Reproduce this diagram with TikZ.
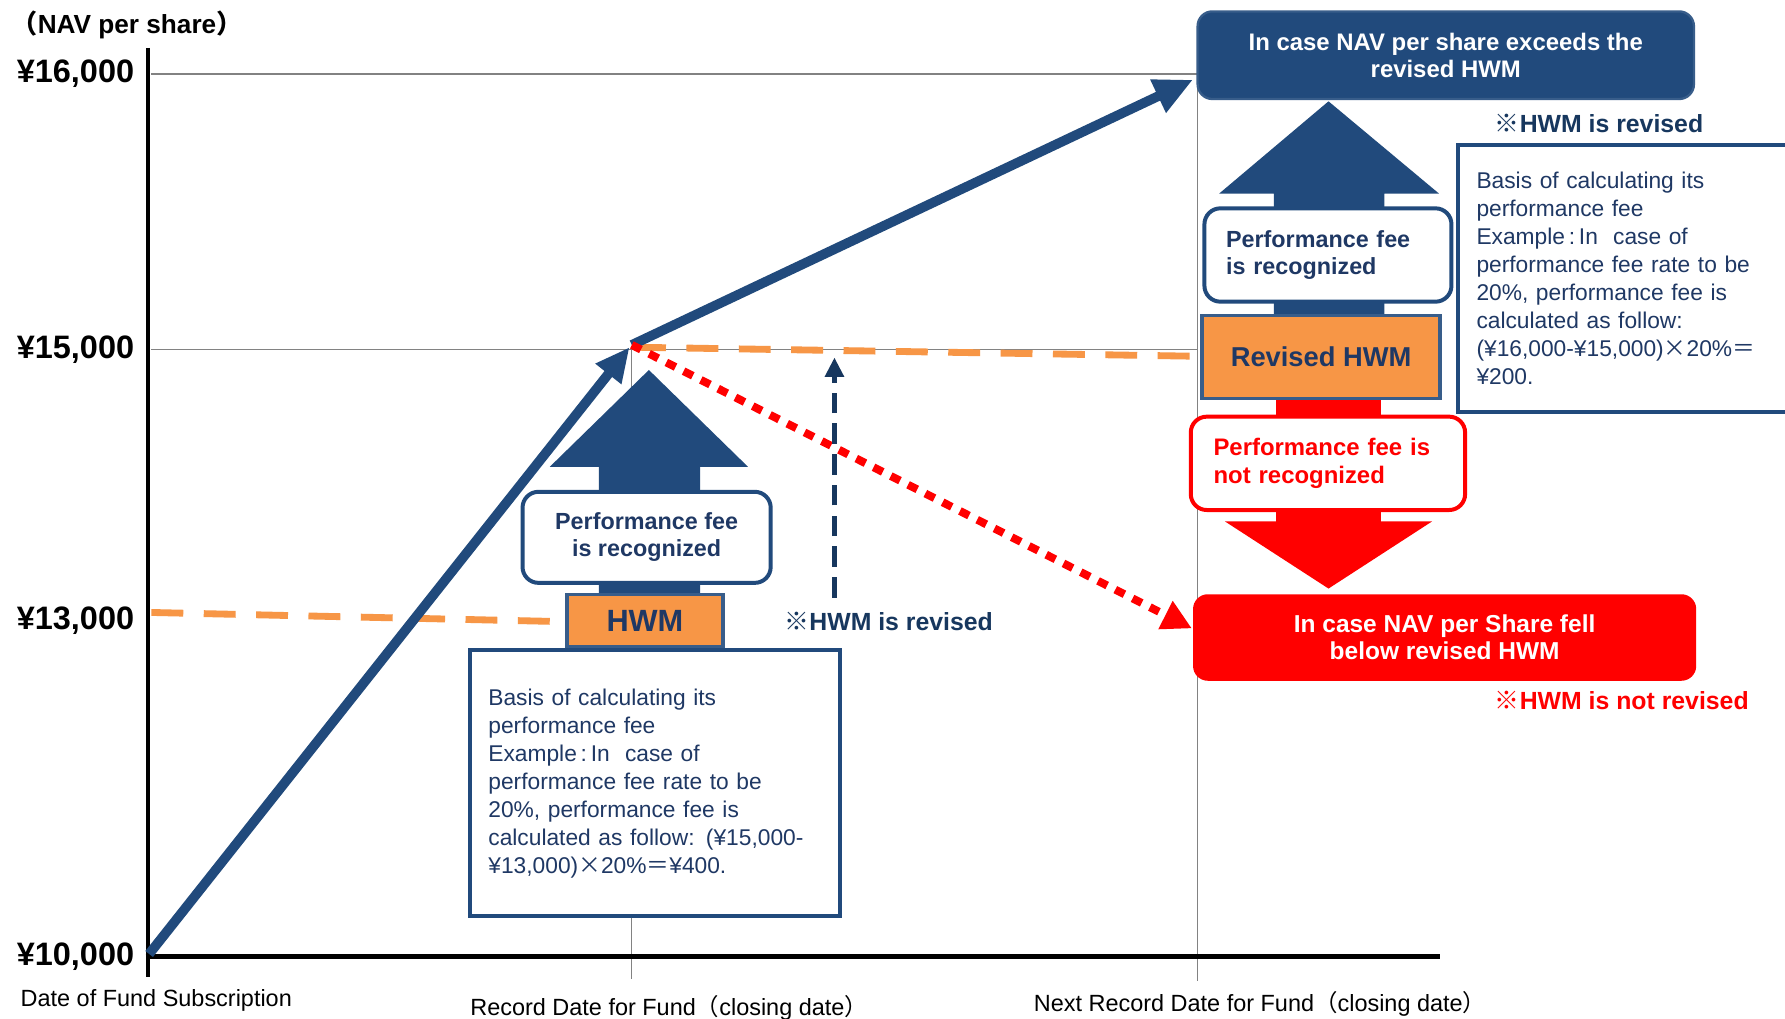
\documentclass[tikz,border=0pt]{standalone}
\usepackage{fontspec}
\setmainfont{Liberation Sans}
\newfontfamily\cjk{Noto Sans CJK JP}
\usetikzlibrary{arrows.meta}
\definecolor{navy}{RGB}{33,74,124}
\definecolor{navytext}{RGB}{31,56,100}
\definecolor{dnavy}{RGB}{23,55,94}
\definecolor{orng}{RGB}{247,150,70}
\definecolor{bordblue}{RGB}{56,93,138}
\definecolor{gridgray}{RGB}{130,130,130}
\newcommand{\fsz}[2]{\fontsize{#1}{#2}\selectfont}
\tikzset{
  ylabel/.style={font=\bfseries\fsz{28.5}{30}, anchor=east, inner sep=0},
  xlabel/.style={font=\fsz{20.6}{24}, anchor=west, inner sep=0},
  gridline/.style={draw=gridgray, line width=1},
  recbox/.style={draw=navy, line width=3.5, fill=white, rounded corners=14, font=\bfseries\fsz{20.5}{24}, text=navytext},
  notrecbox/.style={draw=red, line width=3.5, fill=white, rounded corners=14, font=\bfseries\fsz{21}{24}, text=red},
  hwmbox/.style={draw=bordblue, line width=3, fill=orng, text=navytext},
  basisbox/.style={draw=navy, line width=3.5, fill=white, text=navytext, font=\fsz{20}{24.6}, align=left, inner xsep=16},
  navybox/.style={draw=bordblue, line width=2, fill=navy, rounded corners=13, text=white, font=\bfseries\fsz{21}{24}, align=center},
  redbox/.style={fill=red, rounded corners=13, text=white, font=\bfseries\fsz{21.5}{24}, align=center},
  note/.style={font=\bfseries\fsz{21.8}{24}, anchor=west, inner sep=0},
  mainarrow/.style={draw=navy, line width=8.5},
  orangedash/.style={draw=orng, line width=6, dash pattern=on 28 off 18},
}
\begin{document}
\begin{tikzpicture}[x=1pt,y=-1pt]
\useasboundingbox (0,0) rectangle (1568,895);
\fill[white] (0,0) rectangle (1568,895);

% key points
\coordinate (o) at (131,838);
\coordinate (r1) at (553,305);
\coordinate (r2) at (1048,70);
\coordinate (rs) at (555,303);
\coordinate (rd) at (1047,552);

% grid lines
\draw[gridline] (133,65) -- (1052,65);
\draw[gridline] (133,307) -- (1052,307);
\draw[gridline] (555,307) -- (555,860);
\draw[gridline] (1052,65) -- (1052,862);

% axes
\draw[line width=3] (130,42) -- (130,858);
\draw[line width=4] (128,840) -- (1265,840);

% axis labels
\node[font=\bfseries\fsz{23}{26}, anchor=west, inner sep=0] (ytitle) at (10,22) {{\cjk （}NAV per share{\cjk ）}};
\node[ylabel] (y16) at (118,65) {¥16,000};
\node[ylabel] (y15) at (118,307) {¥15,000};
\node[ylabel] (y13) at (118,545) {¥13,000};
\node[ylabel] (y10) at (118,840) {¥10,000};
\node[xlabel] (x1) at (18,879) {Date of Fund Subscription};
\node[xlabel] (x2) at (413,885) {Record Date for Fund{\cjk （}closing date{\cjk ）}};
\node[xlabel] (x3) at (908,882) {Next Record Date for Fund{\cjk （}closing date{\cjk ）}};

% orange dashed HWM lines
\draw[orangedash] (133,538) -- (492,546);
\draw[orangedash] (557,305) -- (1055,313);

% block arrows
\fill[navy] (526,530) -- (526,410) -- (483,410) -- (570,325) -- (657,410) -- (615,410) -- (615,530) -- cycle;
\fill[navy] (1119,285) -- (1119,170) -- (1071,170) -- (1167,89) -- (1264,170) -- (1216,170) -- (1216,285) -- cycle;
\fill[red] (1121,345) -- (1121,458) -- (1076,458) -- (1167,517) -- (1258,458) -- (1213,458) -- (1213,345) -- cycle;

% left stack
\node[recbox, minimum width=218, minimum height=80, align=center] (recL) at (568,472) {Performance fee\\is recognized};
\node[hwmbox, minimum width=137, minimum height=46, font=\bfseries\fsz{27}{30}] (hwmL) at (566.5,545) {HWM};
\node[basisbox, minimum width=325, minimum height=234, text width=293] (basisL) at (575.5,688) {Basis of calculating its\\performance fee\\Example\,:\,In\ \ case of\\performance fee rate to be\\20\%, performance fee is\\calculated as follow: (¥15,000-\\¥13,000){\cjk ×}20\%{\cjk ＝}¥400.};

% right stack
\node[navybox, minimum width=436, minimum height=77] (topbox) at (1270,48.5) {In case NAV per share exceeds the\\revised HWM};
\node[recbox, minimum width=217, minimum height=82, text width=179, align=left] (recR) at (1166.5,224) {Performance fee\\is recognized};
\node[hwmbox, minimum width=209, minimum height=73, font=\bfseries\fsz{24}{28}] (hwmR) at (1160.5,313.5) {Revised HWM};
\node[notrecbox, minimum width=241, minimum height=82, text width=201, align=left] (notrec) at (1166.5,407) {Performance fee is\\not recognized};
\node[redbox, minimum width=442, minimum height=76] (fellbox) at (1269,560) {In case NAV per Share fell\\below revised HWM};
\node[basisbox, minimum width=330, minimum height=235, text width=298] (basisR) at (1446,244.5) {Basis of calculating its\\performance fee\\Example\,:\,In\ \ case of\\performance fee rate to be\\20\%, performance fee is\\calculated as follow:\\(¥16,000-¥15,000){\cjk ×}20\%{\cjk ＝}\\¥200.};

% main NAV arrows
\draw[mainarrow, -{Triangle[length=30,width=27]}] (o) -- (r1);
\draw[mainarrow, -{Triangle[length=34,width=30]}] (rs) -- (r2);

% red dotted fall arrow
\draw[draw=red, line width=7, dash pattern=on 9 off 8, -{Triangle[length=26,width=26]}] (rs) -- (rd);

% navy dashed revision arrow
\coordinate (da) at (733,525);
\coordinate (db) at (733,314);
\draw[draw=dnavy, line width=4.5, dash pattern=on 18 off 9, -{Triangle[length=17,width=16]}] (da) -- (db);

% notes
\node[note, text=dnavy] (n1) at (689,546) {{\cjk ※}HWM is revised};
\node[note, text=dnavy] (n2) at (1313,108) {{\cjk ※}HWM is revised};
\node[note, text=red] (n3) at (1313,615) {{\cjk ※}HWM is not revised};
\end{tikzpicture}
\end{document}
